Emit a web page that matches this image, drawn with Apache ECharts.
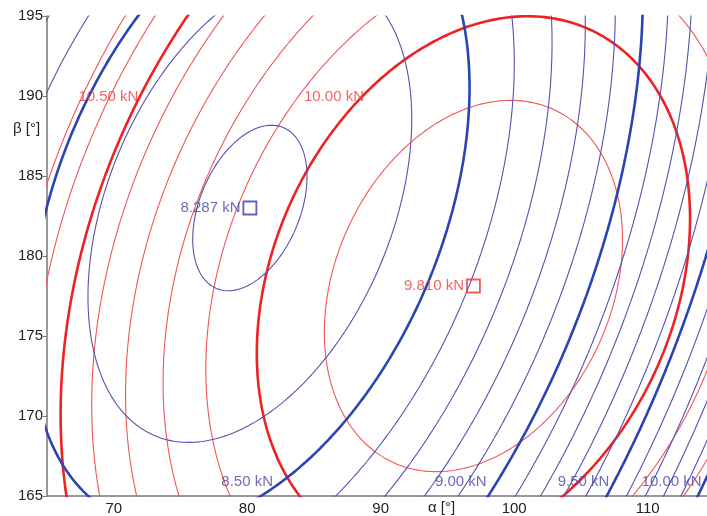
<!DOCTYPE html>
<html><head><meta charset="utf-8">
<script src="https://cdn.jsdelivr.net/npm/echarts@6/dist/echarts.min.js"></script>
<style>html,body{margin:0;padding:0;background:#fff}#c{width:707px;height:516px}</style>
</head><body><div id="c"></div>
<script>
// ---- axes ----
const alphaRange = [65, 114.45];
const betaRange = [165, 195];
const xTickLabels = [70, 80, 90, 100, 110];
const yTickLabels = [165, 170, 175, 180, 185, 190, 195];

// ---- blue force field (kN): minimum [alpha, beta, value] and shape [A, B, C, p] ----
const blueMin = [80.2, 183.0, 8.287];
const blueForm = [9.722e-4, -6.101e-4, 6.665e-4, 0.963];
const blueLevels = [8.3, 8.4, 8.5, 8.6, 8.7, 8.8, 8.9, 9.0, 9.1, 9.2, 9.3, 9.4, 9.5, 9.6, 9.7, 9.8, 9.9, 10.0, 10.1, 10.2, 10.3];
const blueMajor = [8.5, 9.0, 9.5, 10.0];
const blueLabelTexts = ['8.50 kN', '9.00 kN', '9.50 kN', '10.00 kN'];

// ---- red force field (kN) ----
const redMin = [96.95, 178.125, 9.810];
const redForm = [7.693e-4, -3.7e-4, 7.13e-4, 1];
const redLevels = [9.9, 10.0, 10.1, 10.2, 10.3, 10.4, 10.5, 10.6, 10.7];
const redMajor = [10.0, 10.5];
const redLabelTexts = ['10.50 kN', '10.00 kN'];

// ---- layout (label anchors, in axis units) ----
const blueLabelAt = [[80.0, 165.9], [96.0, 165.9], [105.2, 165.9], [111.8, 165.9]];
const redLabelAt = [[69.6, 189.95], [86.5, 189.95]];

const BLUE_THIN = '#5552ad', BLUE_THICK = '#2a44b4', BLUE_TEXT = '#4646a4';
const RED_THIN = '#f25555', RED_THICK = '#ee2222', RED_TEXT = '#f03c3c';
const FONT = 'Liberation Sans, Arial, sans-serif';

function contour(min, form, level) {
  const [a0, b0, f0] = min;
  const [A, B, C, p] = form;
  const d = level - f0;
  if (d <= 0) return [];
  const target = Math.pow(d, p);
  const pts = [];
  const N = 900;
  for (let i = 0; i <= N; i++) {
    const t = i / N * 2 * Math.PI;
    const cx = Math.cos(t) / 13.36, cy = Math.sin(t) / 16;
    const q = A * cx * cx + B * cx * cy + C * cy * cy;
    const r = Math.sqrt(target / q);
    pts.push([a0 + r * cx, b0 + r * cy]);
  }
  return pts;
}

const series = [];
function addFamily(min, form, levels, major, thin, thick, z) {
  levels.forEach(L => {
    const isMajor = major.some(m => Math.abs(m - L) < 1e-9);
    series.push({
      type: 'line', data: contour(min, form, L), showSymbol: false, symbol: 'none',
      clip: true, silent: true, animation: false, z: isMajor ? z + 1 : z,
      lineStyle: { color: isMajor ? thick : thin, width: isMajor ? 2.6 : 1.1 }
    });
  });
}
addFamily(redMin, redForm, redLevels, redMajor, RED_THIN, RED_THICK, 2);
addFamily(blueMin, blueForm, blueLevels, blueMajor, BLUE_THIN, BLUE_THICK, 3);

// minimum markers
series.push({
  type: 'scatter', z: 10, silent: true, animation: false,
  data: [[blueMin[0], blueMin[1]]], symbol: 'rect', symbolSize: 13,
  itemStyle: { color: 'rgba(0,0,0,0)', borderColor: '#3a3aa8', borderWidth: 1.8 },
  label: { show: true, position: 'left', distance: 2, formatter: blueMin[2].toFixed(3) + ' kN',
    color: BLUE_TEXT, fontSize: 15, fontFamily: FONT }
});
series.push({
  type: 'scatter', z: 10, silent: true, animation: false,
  data: [[redMin[0], redMin[1]]], symbol: 'rect', symbolSize: 13,
  itemStyle: { color: 'rgba(0,0,0,0)', borderColor: '#f03030', borderWidth: 1.8 },
  label: { show: true, position: 'left', distance: 2, formatter: redMin[2].toFixed(3) + ' kN',
    color: RED_TEXT, fontSize: 15, fontFamily: FONT }
});
// contour labels
function labelSeries(at, texts, color) {
  return {
    type: 'scatter', z: 11, silent: true, animation: false, symbolSize: 0,
    data: at.map((p, i) => ({ value: p, name: texts[i] })),
    label: { show: true, position: 'inside', formatter: p => p.name, color, fontSize: 15, fontFamily: FONT }
  };
}
series.push(labelSeries(blueLabelAt, blueLabelTexts, BLUE_TEXT));
series.push(labelSeries(redLabelAt, redLabelTexts, RED_TEXT));

const chart = echarts.init(document.getElementById('c'), null, { renderer: 'canvas' });
chart.setOption({
  backgroundColor: '#fff',
  animation: false,
  grid: { left: 47, right: 0, top: 16, bottom: 20, containLabel: false },
  xAxis: {
    type: 'value', min: alphaRange[0], max: alphaRange[1], interval: 5,
    axisLine: { show: true, onZero: false, lineStyle: { color: '#777', width: 1.5 } },
    axisTick: { show: false },
    splitLine: { show: false },
    axisLabel: { margin: 5, color: '#222', fontSize: 15, fontFamily: FONT,
      formatter: v => xTickLabels.includes(v) ? String(v) : '' , showMaxLabel: false }
  },
  yAxis: {
    type: 'value', min: betaRange[0], max: betaRange[1], interval: 5,
    axisLine: { show: true, onZero: false, lineStyle: { color: '#777', width: 1.5 } },
    axisTick: { show: true, length: 4, lineStyle: { color: '#777' } },
    splitLine: { show: false },
    axisLabel: { margin: 4, color: '#222', fontSize: 15, fontFamily: FONT,
      formatter: v => yTickLabels.includes(v) ? String(v) : '' }
  },
  graphic: [
    { type: 'text', left: 13, top: 121, style: { text: 'β [°]', fill: '#222', font: '15px ' + FONT } },
    { type: 'text', left: 428, top: 500, style: { text: 'α [°]', fill: '#222', font: '15px ' + FONT } }
  ],
  series
});
</script>
</body></html>
